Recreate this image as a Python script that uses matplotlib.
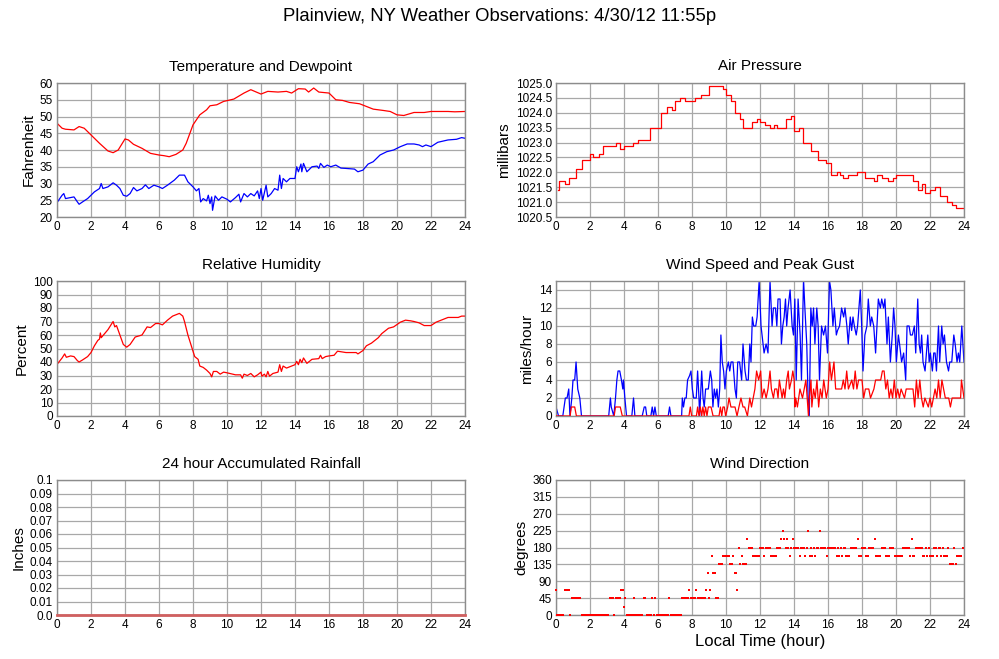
import numpy as np
import matplotlib
matplotlib.use('Agg')
import matplotlib.pyplot as plt

plt.rcParams['font.family'] = ['Liberation Sans', 'DejaVu Sans']

TITLE = 'Plainview, NY Weather Observations: 4/30/12 11:55p'

# Temperature / dewpoint (deg F)
temp_t = [0, 0.3, 0.5, 1.0, 1.3, 1.6, 2.0, 2.5, 3.0, 3.3, 3.6, 4.0, 4.2, 4.5, 5.0, 5.5,
          6.0, 6.3, 6.6, 7.0, 7.4, 7.6, 8.0, 8.4, 8.8, 9.0, 9.4, 9.8, 10.4, 11.0, 11.4,
          12.0, 12.4, 13.0, 13.5, 13.8, 14.2, 14.6, 14.8, 15.1, 15.4, 16.0, 16.4, 16.8,
          17.2, 17.8, 18.2, 18.6, 19.2, 19.6, 20.0, 20.4, 21.0, 21.6, 22.0, 23.0, 23.4, 24.0]
temp_v = [48, 46.5, 46.2, 46.0, 47.0, 46.5, 44.5, 42, 39.7, 39.2, 40, 43.3, 43, 41.7, 40.5, 39,
          38.5, 38.3, 38, 38.7, 40, 42, 47.5, 50.5, 52, 53.2, 53.5, 54.5, 55.2, 57, 58,
          56.7, 57.5, 57.3, 57.5, 57, 58.3, 58.2, 57.3, 58.5, 57.3, 57, 55, 54.8,
          54.2, 53.8, 53, 52.2, 51.8, 51.5, 50.5, 50.3, 51.2, 51.2, 51.5, 51.5, 51.4, 51.5]

dew_t = [0, 0.3, 0.4, 0.5, 0.8, 1.0, 1.2, 1.3, 1.5, 1.8, 2.2, 2.5, 2.6, 2.7, 3.0, 3.2, 3.3,
         3.5, 3.7, 3.9, 4.1, 4.3, 4.5, 4.7, 5.0, 5.2, 5.4, 5.7, 6.0, 6.2, 6.5, 6.9, 7.2,
         7.5, 7.7, 8.0, 8.2, 8.35, 8.45, 8.6, 8.8, 8.9, 9.0, 9.1, 9.15, 9.3, 9.5, 9.7,
         10.0, 10.2, 10.5, 10.7, 10.8, 11.0, 11.2, 11.4, 11.6, 11.8, 11.9, 12.0, 12.1,
         12.3, 12.4, 12.6, 12.8, 13.0, 13.1, 13.2, 13.3, 13.5, 13.7, 14.0, 14.1, 14.2,
         14.35, 14.4, 14.5, 14.7, 15.0, 15.3, 15.4, 15.5, 15.7, 15.9, 16.1, 16.4, 16.7,
         17.0, 17.5, 17.7, 18.0, 18.3, 18.6, 19.0, 19.4, 19.8, 20.2, 20.6, 21.0, 21.3,
         21.5, 21.7, 22.0, 22.4, 23.0, 23.5, 23.8, 24.0]
dew_v = [24.3, 26.5, 27, 25.5, 25.8, 26, 24.5, 23.8, 24.5, 25.5, 27.5, 28.5, 30, 28.5, 29, 29.8, 30.2,
         29.5, 28.5, 26.5, 26.2, 27, 28.8, 27.8, 28.5, 29.6, 28.5, 29.5, 29, 28.5, 29.5, 31, 32.5,
         32.5, 30.5, 29, 27.8, 28.5, 24.5, 25.5, 24.8, 26.5, 24, 26, 22, 26.3, 25, 26,
         25.3, 24.5, 25.8, 26.8, 24.5, 27, 26, 27, 26.3, 27.8, 25.5, 28.5, 25,
         29.5, 26, 27, 28.5, 28, 32.5, 28.5, 31.5, 30.5, 31.5, 31.5, 35, 33.5,
         35.8, 33.5, 36, 33.5, 35, 35.2, 34.5, 36, 34.8, 35.5, 35, 35.5, 34.6,
         34.5, 34.3, 33.5, 34, 35.8, 36.5, 38.5, 39.5, 40, 41, 41.8, 41.8, 41.5,
         41, 41.5, 41, 42.3, 43, 43.2, 43.7, 43.5]

# Air pressure (millibars), stepped readings
pres_t = [0.1, 0.2, 0.5, 0.75, 1.2, 1.5, 2.0, 2.2, 2.5, 2.75, 3.5, 3.75, 4.0, 4.5, 4.8, 5.5,
          6.2, 6.5, 6.8, 7.0, 7.3, 7.6, 8.2, 8.5, 9.0, 9.8, 10.0, 10.3, 10.5, 10.8, 11.0,
          11.5, 11.8, 12.0, 12.3, 12.6, 12.8, 13.0, 13.5, 13.8, 14.0, 14.3, 14.5, 15.0,
          15.4, 15.9, 16.2, 16.5, 16.7, 16.9, 17.2, 17.7, 18.2, 18.7, 18.9, 19.2, 19.5,
          19.8, 20.0, 21.0, 21.3, 21.5, 21.7, 22.0, 22.3, 22.6, 23.0, 23.3, 23.5, 23.95]
pres_v = [1021.4, 1021.7, 1021.6, 1021.8, 1022.1, 1022.4, 1022.6, 1022.5, 1022.6, 1022.9, 1023.0,
          1022.8, 1022.9, 1023.0, 1023.1, 1023.5, 1024.0, 1024.2, 1024.1, 1024.4, 1024.5, 1024.4,
          1024.5, 1024.6, 1024.9, 1024.8, 1024.6, 1024.4, 1024.0, 1023.8, 1023.5, 1023.7,
          1023.8, 1023.7, 1023.6, 1023.5, 1023.6, 1023.5, 1023.8, 1023.9, 1023.4, 1023.5,
          1023.0, 1022.7, 1022.4, 1022.3, 1021.9, 1022.0, 1021.9, 1021.8, 1021.9, 1022.0,
          1021.8, 1021.7, 1021.9, 1021.8, 1021.7, 1021.8, 1021.9, 1021.7, 1021.4, 1021.6,
          1021.3, 1021.4, 1021.5, 1021.2, 1021.0, 1020.9, 1020.8, 1020.8]

# Relative humidity (%)
rh_t = [0.05, 0.3, 0.45, 0.55, 0.8, 1.0, 1.2, 1.3, 1.5, 1.8, 2.0, 2.2, 2.4, 2.5, 2.55, 2.6,
        3.0, 3.2, 3.3, 3.4, 3.5, 3.7, 3.9, 4.1, 4.3, 4.6, 5.0, 5.3, 5.5, 5.8, 6.0, 6.2,
        6.5, 6.8, 7.0, 7.2, 7.4, 7.5, 7.7, 7.9, 8.1, 8.3, 8.4, 8.6, 8.8, 9.0, 9.1, 9.2,
        9.4, 9.6, 9.8, 10.0, 10.5, 10.8, 10.9, 11.0, 11.2, 11.4, 11.6, 11.8, 12.0, 12.05,
        12.2, 12.3, 12.4, 12.5, 12.7, 13.0, 13.1, 13.2, 13.3, 13.5, 13.8, 14.0, 14.1,
        14.2, 14.3, 14.4, 14.5, 14.7, 15.0, 15.4, 15.5, 15.6, 15.8, 16.0, 16.3, 16.5,
        17.0, 17.6, 17.7, 18.0, 18.2, 18.5, 18.9, 19.1, 19.5, 19.8, 20.2, 20.5, 20.8,
        21.0, 21.3, 21.6, 22.0, 22.3, 22.7, 23.0, 23.6, 23.8, 24.0]
rh_v = [39, 43, 46, 43.5, 44.5, 44, 41, 40, 41.5, 44, 47, 52, 56, 57, 61.5, 58,
        64, 68, 70, 66, 67, 60, 53, 51, 53, 58.5, 60, 66, 65.5, 68.5, 68.5, 67.5,
        71, 74, 75, 76, 74, 70, 60, 52, 44, 42, 37, 36, 34, 31.5, 29, 33,
        33, 31, 32.5, 32, 30.5, 30.5, 28, 31, 30, 31.5, 29, 30.5, 32.5, 29.5,
        31, 29, 33, 29.5, 31.5, 32.5, 38, 33, 37, 35.5, 37, 38, 40.5,
        38, 42, 39.5, 43, 39, 42, 42.5, 45, 42.5, 44, 44.5, 45, 48,
        47, 47, 46, 48.5, 52, 54, 58, 61, 65, 66, 69.5, 71, 70.5,
        70, 69, 67, 67, 69.5, 71.5, 73, 73, 74, 74]

# Peak gust (mph)
gust_t = [0.0, 0.15, 0.4, 0.55, 0.65, 0.75, 0.82, 0.93, 1.0, 1.1, 1.18, 1.28, 1.4, 1.5,
          3.1, 3.2, 3.25, 3.4, 3.5, 3.58, 3.65, 3.75, 3.85, 3.93, 3.97, 4.05, 4.15, 4.46,
          4.56, 4.64, 5.07, 5.19, 5.27, 5.34, 5.58, 5.66, 5.74, 5.82, 5.9, 6.6, 6.68, 6.76,
          7.39, 7.43, 7.5, 7.58, 7.66, 7.74, 7.86, 7.94, 8.02, 8.1, 8.25, 8.33, 8.41, 8.45,
          8.57, 8.65, 8.72, 8.8, 8.96, 9.08, 9.16, 9.23, 9.31, 9.39, 9.47, 9.55, 9.63, 9.7,
          9.78, 9.86, 9.94, 10.02, 10.14, 10.22, 10.3, 10.41, 10.53, 10.61, 10.69, 10.8,
          10.92, 11.0, 11.12, 11.2, 11.31, 11.4, 11.47, 11.55, 11.63, 11.75, 11.83, 11.95,
          12.06, 12.24, 12.36, 12.47, 12.59, 12.71, 12.79, 12.91, 12.99, 13.06, 13.18, 13.26,
          13.34, 13.42, 13.5, 13.57, 13.65, 13.77, 13.89, 13.97, 14.05, 14.13, 14.24, 14.36,
          14.44, 14.56, 14.64, 14.75, 14.83, 14.9, 14.99, 15.07, 15.15, 15.23, 15.34, 15.42,
          15.5, 15.62, 15.74, 15.85, 15.97, 16.09, 16.17, 16.29, 16.37, 16.49, 16.56, 16.68,
          16.8, 16.92, 17.0, 17.11, 17.19, 17.31, 17.39, 17.47, 17.55, 17.66, 17.74, 17.82,
          17.9, 17.98, 18.06, 18.17, 18.29, 18.37, 18.49, 18.57, 18.69, 18.8, 18.88, 18.96,
          19.08, 19.16, 19.27, 19.35, 19.47, 19.55, 19.67, 19.78, 19.86, 19.94, 20.02, 20.14,
          20.21, 20.33, 20.45, 20.57, 20.65, 20.77, 20.85, 20.96, 21.08, 21.16, 21.28, 21.36,
          21.44, 21.51, 21.59, 21.71, 21.79, 21.87, 21.95, 22.02, 22.14, 22.22, 22.3, 22.38,
          22.5, 22.57, 22.69, 22.77, 22.85, 22.97, 23.09, 23.16, 23.28, 23.4, 23.48, 23.59,
          23.67, 23.75, 23.87, 24.0]
gust_v = [1, 0, 0, 2, 2, 3, 0, 2, 4, 4, 6, 3, 2, 0,
          0, 2, 1, 0, 2, 4, 5, 5, 4, 3, 4, 2, 0, 0,
          2, 0, 0, 1, 1, 0, 0, 1, 0, 1, 0, 0, 1, 0,
          0, 2, 1, 2, 2, 4, 4.5, 5, 3, 2, 2, 5, 2, 0,
          5, 2, 1, 3, 3, 5, 4, 1, 3, 2, 3, 1, 3, 9,
          6, 5, 3, 5, 6, 5, 6, 6, 3, 2, 6, 6,
          4, 8, 5, 4, 4, 8, 6, 11, 10, 10, 11, 15,
          10, 7, 8, 7, 15, 10, 12, 12, 10, 13, 13, 8,
          10, 11, 13, 10, 12, 14, 10, 9, 13, 4, 13, 9,
          4, 15.2, 12, 8, 2, 0, 12, 10, 12, 8, 12, 10,
          4, 10, 9, 10, 7, 15, 14, 10, 12, 9, 9.5, 10,
          12, 11, 12, 10, 8, 11, 9.5, 11, 10, 9, 10, 12,
          14, 10, 5, 9, 10, 13, 10, 11, 10, 7, 10, 13,
          12, 13, 12, 13, 8, 11, 6, 9, 12, 10, 6, 9,
          8, 6, 7, 4, 10, 10, 9, 9, 10, 7, 13, 8,
          7, 9, 6, 5, 7, 9, 6, 7, 5, 7, 7, 5,
          10, 6, 10, 8, 9, 6, 5, 6, 6, 9, 8, 6,
          7, 6, 10, 6]

# Wind speed (mph)
speed_t = [0, 0.83, 0.9, 1.1, 1.2, 3.42, 3.5, 3.78, 3.9, 7.82, 7.9, 7.98, 8.26, 8.33, 8.41,
           8.49, 8.57, 8.64, 8.72, 8.8, 8.88, 8.96, 9.12, 9.24, 9.59, 9.67, 9.75, 9.82, 9.9,
           9.98, 10.1, 10.18, 10.29, 10.53, 10.65, 10.76, 10.88, 11.0, 11.1, 11.26, 11.4,
           11.5, 11.6, 11.7, 11.8, 11.92, 12.04, 12.12, 12.24, 12.36, 12.47, 12.59, 12.67,
           12.79, 12.87, 12.99, 13.06, 13.14, 13.22, 13.3, 13.38, 13.46, 13.57, 13.66, 13.73,
           13.85, 13.93, 14.01, 14.05, 14.1, 14.2, 14.35, 14.5, 14.6, 14.7, 14.85, 14.9,
           15.0, 15.05, 15.15, 15.25, 15.35, 15.45, 15.55, 15.65, 15.75, 15.9, 16.0, 16.1,
           16.2, 16.35, 16.45, 16.8, 16.9, 17.0, 17.1, 17.2, 17.4, 17.5, 17.6, 17.7, 17.8,
           18.0, 18.1, 18.2, 18.4, 18.5, 18.7, 18.8, 19.1, 19.2, 19.3, 19.4, 19.5, 19.6,
           19.7, 19.8, 19.9, 20.0, 20.1, 20.2, 20.3, 20.5, 20.6, 21.0, 21.1, 21.2, 21.3,
           21.4, 21.5, 21.6, 21.7, 21.9, 22.0, 22.1, 22.2, 22.3, 22.4, 22.5, 22.6, 22.7,
           22.8, 22.9, 23.1, 23.2, 23.3, 23.8, 23.85, 24.0]
speed_v = [0, 0, 1, 1, 0, 0, 1, 1, 0, 0, 1, 0, 0, 1, 0,
           1, 0, 1, 0, 1, 0, 1, 1, 0, 0, 1, 0, 1, 1,
           0, 1, 2, 1, 1, 0, 1, 2, 1, 1, 0, 2,
           1, 2, 3, 5, 4, 5, 2, 3, 2, 3, 5, 3,
           2, 3, 3, 2, 4, 3, 2, 3, 2, 4, 5, 3,
           4, 5, 4, 1, 2, 1, 3, 2, 3, 4, 0, 2,
           4, 1, 3, 2, 4, 1, 3, 2, 4, 2, 3, 6,
           4, 6, 3, 3, 4, 3, 5, 3, 4, 3, 5, 3, 4,
           4, 2, 3, 3, 2, 3, 4, 4, 5, 5, 3, 4, 2,
           3, 2, 4, 2, 3, 2, 3, 2, 3, 3, 1, 4, 2,
           4, 2, 1, 2, 1, 2, 1, 2, 3, 2, 4, 2, 4,
           3, 2, 2, 1, 2, 2, 4, 2]

# Wind direction (degrees), one reading every 5 minutes, 12 per hour
dir_rows = [
    [67.5, 0, 0, 0, 0, 0, 67.5, 67.5, 67.5, 67.5, 0, 45],
    [45, 45, 45, 45, 45, 45, 0, 0, 0, 0, 0, 0],
    [0, 0, 0, 0, 0, 0, 0, 0, 0, 0, 0, 0],
    [0, 0, 45, 45, 45, 0, 45, 45, 45, 45, 67.5, 67.5],
    [22.5, 45, 0, 0, 0, 0, 0, 45, 0, 0, 0, 0],
    [0, 0, 45, 45, 0, 0, 0, 0, 45, 0, 45, 0],
    [0, 0, 0, 0, 0, 0, 0, 0, 45, 0, 0, 0],
    [0, 0, 0, 0, 0, 45, 45, 45, 45, 45, 67.5, 45],
    [45, 45, 45, 67.5, 45, 45, 45, 45, 45, 45, 67.5, 112.5],
    [45, 67.5, 157.5, 112.5, 112.5, 45, 45, 135, 135, 135, 157.5, 157.5],
    [157.5, 157.5, 157.5, 135, 135, 157.5, 112.5, 112.5, 67.5, 180, 135, 157.5],
    [135, 135, 135, 202.5, 180, 180, 180, 157.5, 157.5, 157.5, 157.5, 157.5],
    [180, 180, 180, 157.5, 180, 180, 180, 180, 157.5, 157.5, 157.5, 157.5],
    [180, 180, 180, 202.5, 225, 202.5, 180, 202.5, 180, 157.5, 180, 202.5],
    [180, 180, 180, 180, 157.5, 180, 180, 180, 157.5, 180, 225, 157.5],
    [180, 157.5, 180, 157.5, 180, 180, 225, 180, 180, 180, 180, 157.5],
    [180, 180, 180, 180, 180, 180, 157.5, 180, 157.5, 180, 157.5, 180],
    [180, 157.5, 157.5, 157.5, 180, 180, 180, 180, 180, 202.5, 157.5, 157.5],
    [180, 180, 180, 157.5, 157.5, 180, 180, 180, 180, 202.5, 157.5, 157.5],
    [157.5, 157.5, 180, 180, 180, 157.5, 157.5, 157.5, 180, 180, 180, 157.5],
    [157.5, 157.5, 157.5, 157.5, 157.5, 180, 180, 180, 180, 180, 157.5, 202.5],
    [157.5, 157.5, 180, 180, 180, 180, 180, 157.5, 157.5, 180, 157.5, 180],
    [157.5, 157.5, 157.5, 180, 180, 157.5, 180, 180, 157.5, 180, 157.5, 157.5],
    [157.5, 180, 135, 135, 135, 180, 135, 157.5, 157.5, 157.5, 157.5, 180],
]

# 24 hour rainfall (inches)
rain_t = [0, 24]
rain_v = [0.0, 0.0]

hours = list(range(0, 25, 2))

RED = '#ff0000'
BLUE = '#0000ff'
GRID = '#a8a8a8'


def style(ax, title, ylabel, ylim, yticks, ylabels=None):
    ax.set_xlim(0, 24)
    ax.set_ylim(*ylim)
    ax.set_xticks(hours)
    ax.set_yticks(yticks)
    if ylabels is not None:
        ax.set_yticklabels(ylabels)
    ax.grid(True, color=GRID, linewidth=0.9, zorder=0)
    ax.set_axisbelow(True)
    ax.tick_params(length=0, labelsize=8.5, pad=3)
    for s in ax.spines.values():
        s.set_color('#8c8c8c')
        s.set_linewidth(1.0)
    ax.set_title(title, fontsize=11, pad=9)
    ax.set_ylabel(ylabel, fontsize=11, labelpad=3)


fig = plt.figure(figsize=(9.99, 6.59), dpi=100)
fig.suptitle(TITLE, fontsize=13.3, y=0.988)

W = 408 / 999
H1 = 134 / 659
H = 135 / 659
xl, xr = 57 / 999, 556 / 999

ax1 = fig.add_axes([xl, 1 - 217 / 659, W, H1])
ax1.plot(temp_t, temp_v, color=RED, lw=0.9)
ax1.plot(dew_t, dew_v, color=BLUE, lw=0.9)
style(ax1, 'Temperature and Dewpoint', 'Fahrenheit', (20, 60), range(20, 61, 5))

ax2 = fig.add_axes([xr, 1 - 217 / 659, W, H1])
ax2.plot(pres_t, pres_v, color=RED, lw=0.9, drawstyle='steps-post')
pticks = np.arange(1020.5, 1025.01, 0.5)
style(ax2, 'Air Pressure', 'millibars', (1020.5, 1025.0), pticks,
      ['%.1f' % p for p in pticks])

ax3 = fig.add_axes([xl, 1 - 416 / 659, W, H])
ax3.plot(rh_t, rh_v, color=RED, lw=0.9)
style(ax3, 'Relative Humidity', 'Percent', (0, 100), range(0, 101, 10))

ax4 = fig.add_axes([xr, 1 - 416 / 659, W, H])
ax4.plot(speed_t, speed_v, color=RED, lw=0.9, zorder=3)
ax4.plot(gust_t, gust_v, color=BLUE, lw=0.9, zorder=2)
style(ax4, 'Wind Speed and Peak Gust', 'miles/hour', (0, 15), range(0, 15, 2))

ax5 = fig.add_axes([xl, 1 - 615 / 659, W, H])
ax5.plot(rain_t, rain_v, color='#d06060', lw=2.0, clip_on=False, zorder=3)
rticks = [i / 100 for i in range(11)]
rlabels = ['0.0'] + ['%.2f' % r for r in rticks[1:-1]] + ['0.1']
style(ax5, '24 hour Accumulated Rainfall', 'Inches', (0, 0.1), rticks, rlabels)

ax6 = fig.add_axes([xr, 1 - 615 / 659, W, H])
dir_v = [v for row in dir_rows for v in row]
dir_t = [i / 12 for i in range(len(dir_v))]
ax6.plot(dir_t, dir_v, linestyle='none', marker='s', markersize=1.8,
         markeredgewidth=0, color=RED, clip_on=False, zorder=3)
style(ax6, 'Wind Direction', 'degrees', (0, 360), range(0, 361, 45))
ax6.set_xlabel('Local Time (hour)', fontsize=12, labelpad=2)

fig.savefig('out.png', dpi=100)
